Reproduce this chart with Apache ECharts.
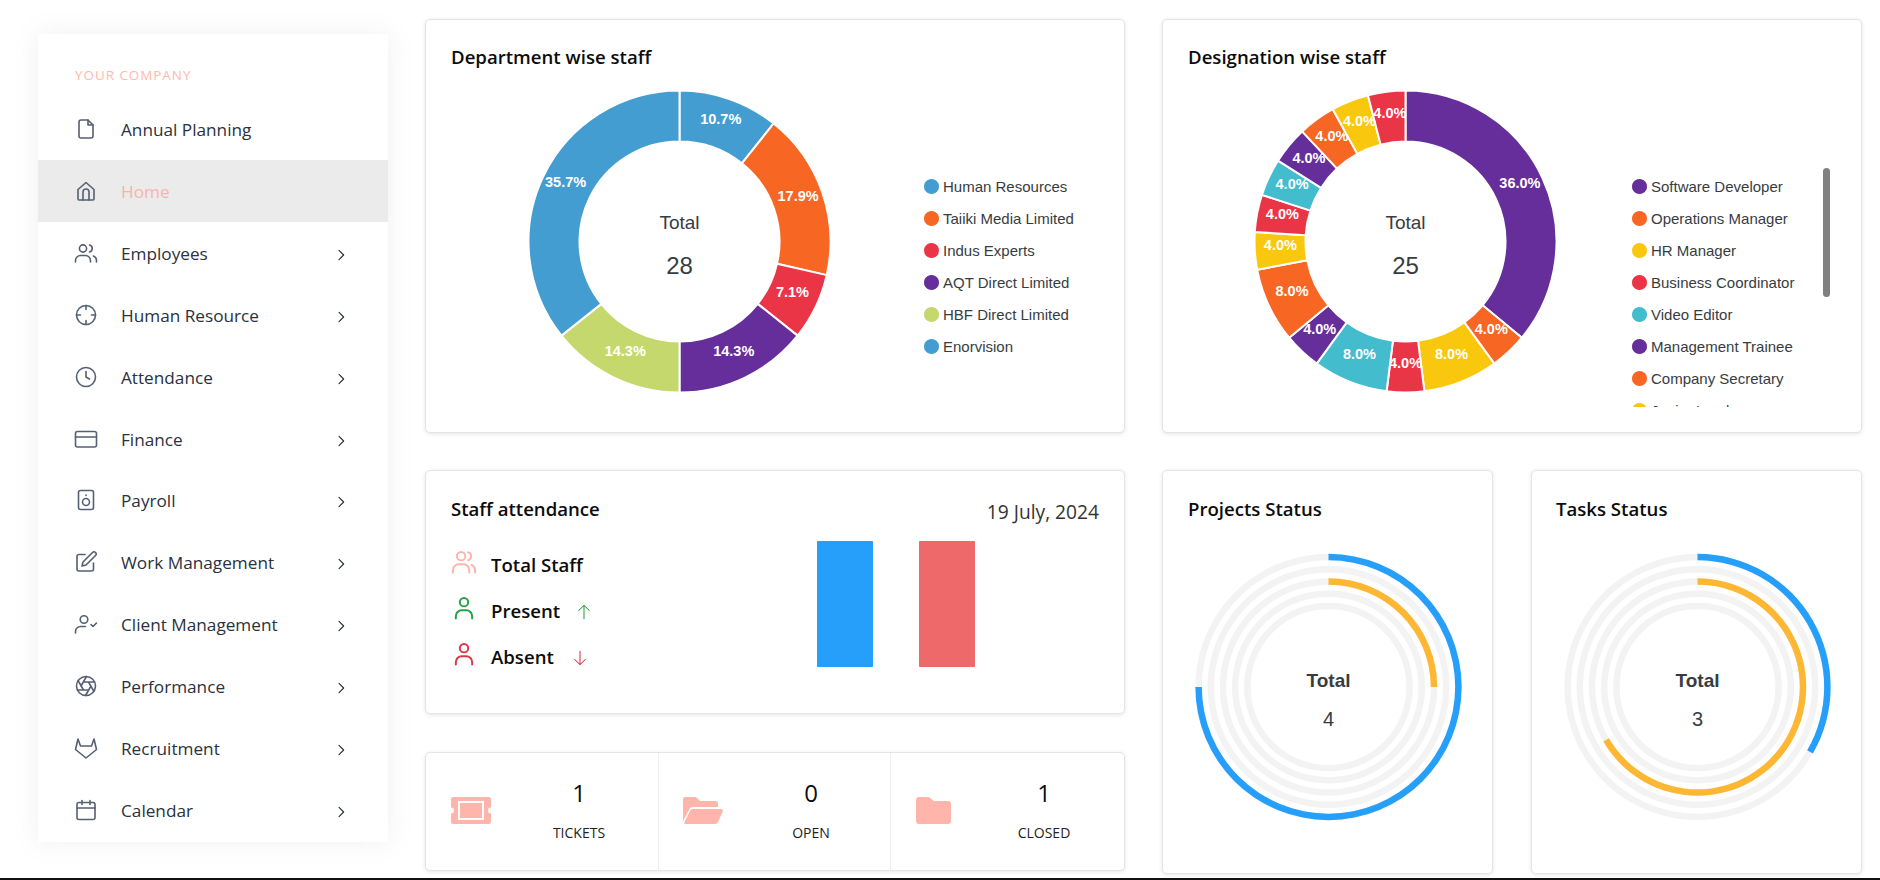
<!DOCTYPE html>
<html>
<head>
<meta charset="utf-8">
<title>Dashboard</title>
<script src="https://cdn.jsdelivr.net/npm/echarts@6/dist/echarts.min.js"></script>
<style>
html,body{margin:0;padding:0;background:#fff;width:1880px;height:880px;overflow:hidden;font-family:"Open Sans",sans-serif;}
.abs{position:absolute;}
#side{left:38px;top:34px;width:350px;height:808px;background:#fff;box-shadow:0 0 24px rgba(120,130,130,.12);}
#company{left:37px;top:32px;font-size:13.4px;letter-spacing:1px;color:#ffb9ae;line-height:18px;}
.row{position:absolute;left:0;width:350px;height:62px;}
.row.on{background:#ebebeb;}
.row svg.ic{position:absolute;left:36px;top:19px;width:24px;height:24px;fill:none;stroke:#566074;stroke-width:1.6;stroke-linecap:round;stroke-linejoin:round;}
.row span{position:absolute;left:83px;top:1px;line-height:62px;font-size:17.2px;color:#2a3140;white-space:nowrap;}
.row.on span{color:#f7b4a9;}
.row svg.ch{position:absolute;left:295px;top:25px;width:16px;height:16px;fill:none;stroke:#222b38;stroke-width:1.6;stroke-linecap:round;stroke-linejoin:round;}
.card{position:absolute;background:#fff;border:1px solid #e4e4e4;border-radius:5px;box-shadow:0 1px 4px rgba(0,0,0,.1);box-sizing:border-box;}
.ttl{position:absolute;font-size:18.6px;font-weight:600;color:#0c0c0c;line-height:24px;white-space:nowrap;z-index:2;}
.chart{position:absolute;left:0;top:0;width:100%;height:100%;}
.clip{position:absolute;overflow:hidden;left:0;top:0;width:100%;}
.st{position:absolute;left:65px;font-size:18.6px;font-weight:600;color:#0c0c0c;line-height:24px;white-space:nowrap;}
.st-ic{position:absolute;left:24px;width:28px;height:28px;fill:none;stroke-width:1.7;stroke-linecap:round;stroke-linejoin:round;}
.ar{position:absolute;width:18px;height:18px;fill:none;stroke-width:1.4;stroke-linecap:round;stroke-linejoin:round;}
.num{position:absolute;width:120px;text-align:center;font-size:24px;font-weight:500;color:#0c0c0c;line-height:30px;}
.lab{position:absolute;width:120px;text-align:center;font-size:14px;color:#222;line-height:20px;}
.div{position:absolute;top:0;bottom:0;width:1px;background:#efefef;}
.tk{position:absolute;fill:#ffb5ab;}
#base{left:0;top:878px;width:1880px;height:2px;background:#111;}
</style>
</head>
<body>

<div id="side" class="abs">
    <div id="company" class="abs">YOUR COMPANY</div>
</div>

<div class="card" style="left:425px;top:19px;width:700px;height:414px;">
    <div class="ttl" style="left:25px;top:25px;">Department wise staff</div>
    <div id="deptChart" class="chart"></div>
</div>

<div class="card" style="left:1162px;top:19px;width:700px;height:414px;">
    <div class="ttl" style="left:25px;top:25px;">Designation wise staff</div>
    <div class="clip" style="height:387px;"><div id="desigChart" style="width:700px;height:414px;"></div></div>
    <div class="abs" style="left:660px;top:148px;width:7px;height:129px;border-radius:4px;background:#808080;"></div>
</div>

<div class="card" style="left:425px;top:470px;width:700px;height:244px;">
    <div class="ttl" style="left:25px;top:26px;">Staff attendance</div>
    <div class="abs" style="right:25px;top:28px;font-size:19.2px;color:#333;line-height:26px;">19 July, 2024</div>
    <svg class="st-ic" style="top:77px;stroke:#ffb5ab;" viewBox="0 0 24 24"><circle cx="9.500" cy="7" r="3.600"/><path d="M2.500 21v-2a5 5 0 0 1 5-5h4a5 5 0 0 1 5 5v2"/><path d="M15.500 3.600a3.600 3.600 0 0 1 0 6.900"/><path d="M21.500 21v-2a5 5 0 0 0-3-4.500"/></svg>
    <div class="st" style="top:82px;">Total Staff</div>
    <svg class="st-ic" style="top:123px;stroke:#25a244;" viewBox="0 0 24 24"><circle cx="12" cy="7" r="3.600"/><path d="M5 21v-2a5 5 0 0 1 5-5h4a5 5 0 0 1 5 5v2"/></svg>
    <div class="st" style="top:128px;">Present</div>
    <svg class="ar" style="left:149px;top:132px;stroke:#25a244;" viewBox="0 0 24 24"><path d="M12 21V3M5 10l7-7 7 7"/></svg>
    <svg class="st-ic" style="top:169px;stroke:#dc3545;" viewBox="0 0 24 24"><circle cx="12" cy="7" r="3.600"/><path d="M5 21v-2a5 5 0 0 1 5-5h4a5 5 0 0 1 5 5v2"/></svg>
    <div class="st" style="top:174px;">Absent</div>
    <svg class="ar" style="left:145px;top:178px;stroke:#dc3545;" viewBox="0 0 24 24"><path d="M12 3v18M5 14l7 7 7-7"/></svg>
    <div id="attChart" class="chart"></div>
</div>

<div class="card" style="left:425px;top:752px;width:700px;height:119px;">
    <div class="div" style="left:232px;"></div>
    <div class="div" style="left:464px;"></div>
    <svg class="tk" style="left:25px;top:44px;width:40px;height:27px;" viewBox="0 0 40 27"><path fill-rule="evenodd" d="M2 0h36a2 2 0 0 1 2 2v8.500a3 3 0 0 0 0 6V25a2 2 0 0 1-2 2H2a2 2 0 0 1-2-2v-8.500a3 3 0 0 0 0-6V2a2 2 0 0 1 2-2zM7 4v19h26V4zM9 6h22v15H9z"/></svg>
    <svg class="tk" style="left:257px;top:44px;width:40px;height:27px;" viewBox="0 0 40 27"><path d="M2 0h11l4 4h15a3 3 0 0 1 3 3v3H10a4 4 0 0 0-4 3L0 24V2a2 2 0 0 1 2-2z"/><path d="M10 12h28a2 2 0 0 1 2 2l-5 11a3 3 0 0 1-3 2H2a2 2 0 0 1-1-1l6-12a4 4 0 0 1 3-2z"/></svg>
    <svg class="tk" style="left:490px;top:44px;width:35px;height:27px;" viewBox="0 0 35 27"><path d="M3 0h10l5 4h14a3 3 0 0 1 3 3v17a3 3 0 0 1-3 3H3a3 3 0 0 1-3-3V3a3 3 0 0 1 3-3z"/></svg>
    <div id="ticketBox"></div>
</div>

<div class="card" style="left:1162px;top:470px;width:331px;height:404px;">
    <div class="ttl" style="left:25px;top:26px;">Projects Status</div>
    <div id="projChart" class="chart"></div>
</div>

<div class="card" style="left:1531px;top:470px;width:331px;height:404px;">
    <div class="ttl" style="left:24px;top:26px;">Tasks Status</div>
    <div id="taskChart" class="chart"></div>
</div>

<div id="base" class="abs"></div>

<script>
/********** data **********/
var menuNames = ["Annual Planning","Home","Employees","Human Resource","Attendance","Finance","Payroll","Work Management","Client Management","Performance","Recruitment","Calendar"];

var deptNames = ["Human Resources","Taiiki Media Limited","Indus Experts","AQT Direct Limited","HBF Direct Limited","Enorvision"];
var deptValues = [3,5,2,4,4,10];
var deptColors = ["#449DD1","#F86624","#EA3546","#662E9B","#C5D86D","#449DD1"];

// only the first eight names can be read, the legend is cut off after that
var desigNames = ["Software Developer","Operations Manager","HR Manager","Business Coordinator","Video Editor","Management Trainee","Company Secretary","Junior Lead","Designation 9","Designation 10","Designation 11","Designation 12","Designation 13","Designation 14"];
var desigValues = [9,1,2,1,2,1,2,1,1,1,1,1,1,1];
var desigColors = ["#662E9B","#F86624","#F9C80E","#EA3546","#43BCCD"];

var attNames = ["Present","Absent"];
var attValues = [1,1];
var attColors = ["#269FFB","#EE6A6A"];

var ticketNames = ["TICKETS","OPEN","CLOSED"];
var ticketValues = [1,0,1];

var statusNames = ["S1","S2","S3","S4","S5"];
var projectValues = [3,0,1,0,0];
var taskValues = [1,0,2,0,0];
var statusColors = ["#269FFB","#26E7A6","#FEB733","#FF6178","#8B75D7"];

/********** sidebar **********/
var icons = {
    "Annual Planning":'<path d="M14 3H7a2 2 0 0 0-2 2v14a2 2 0 0 0 2 2h10a2 2 0 0 0 2-2V8z"/><path d="M14 3v5h5"/>',
    "Home":'<path d="M4 10.500 12 3.500l8 7V20a1 1 0 0 1-1 1H5a1 1 0 0 1-1-1z"/><path d="M9 21v-8a3 3 0 0 1 6 0v8"/>',
    "Employees":'<circle cx="9" cy="7.500" r="3.600"/><path d="M1.500 21v-1.500a5 5 0 0 1 5-5h5a5 5 0 0 1 5 5V21"/><path d="M15.500 4a3.600 3.600 0 0 1 0 7"/><path d="M22.500 21v-1.500a5 5 0 0 0-3-4.500"/>',
    "Human Resource":'<circle cx="12" cy="12" r="9.500"/><path d="M12 2.500v4M12 17.500v4M2.500 12h4M17.500 12h4"/>',
    "Attendance":'<circle cx="12" cy="12" r="9.500"/><path d="M12 6.500V12l3.500 2"/>',
    "Finance":'<rect x="1.500" y="4.500" width="21" height="15.500" rx="2"/><path d="M1.500 10h21"/>',
    "Payroll":'<rect x="4.500" y="2.500" width="15" height="19" rx="2"/><circle cx="12" cy="14" r="3.500"/><path d="M12 7v.5"/>',
    "Work Management":'<path d="M11 4.500H5a2 2 0 0 0-2 2V19a2 2 0 0 0 2 2h12.500a2 2 0 0 0 2-2v-6"/><path d="M18.500 2.500a2.100 2.100 0 0 1 3 3L12 15l-4 1 1-4z"/>',
    "Client Management":'<circle cx="10" cy="7.500" r="3.800"/><path d="M1.500 21v-1.500a5 5 0 0 1 5-5h5"/><path d="M17 12.500l2 2 3.500-3.500"/>',
    "Performance":'<circle cx="12" cy="12" r="9.500"/><path d="M14.500 8 20 17.500M9.500 8h11M7 12l5.500-9.500M9.500 16 4 6.500M14.500 16h-11M17 12l-5.500 9.500"/>',
    "Recruitment":'<path d="M4 3l2.500 7h11L20 3l2.500 10.500L12 22 1.500 13.500z"/>',
    "Calendar":'<rect x="3" y="4.500" width="18" height="17" rx="2"/><path d="M8 2.500v4M16 2.500v4M3 10h18"/>'
};

var side = document.getElementById("side");
var menuHtml = "";
for(var i = 0; i < menuNames.length; i++){
    var rowTop = 64 + i * 61.9;
    var on = menuNames[i] == "Home" ? " on" : "";
    menuHtml += '<div class="row' + on + '" style="top:' + rowTop + 'px">';
    menuHtml += '<svg class="ic" viewBox="0 0 24 24">' + icons[menuNames[i]] + '</svg>';
    menuHtml += '<span>' + menuNames[i] + '</span>';
    if(i > 1){
        menuHtml += '<svg class="ch" viewBox="0 0 24 24"><path d="M9 5l7 7-7 7"/></svg>';
    }
    menuHtml += '</div>';
}
side.insertAdjacentHTML("beforeend", menuHtml);

/********** tickets strip **********/
var tickHtml = "";
var tickX = [93,325,558];
for(var j = 0; j < ticketNames.length; j++){
    tickHtml += '<div class="num" style="left:' + tickX[j] + 'px;top:25px;">' + ticketValues[j] + '</div>';
    tickHtml += '<div class="lab" style="left:' + tickX[j] + 'px;top:70px;">' + ticketNames[j] + '</div>';
}
document.getElementById("ticketBox").innerHTML = tickHtml;

/********** donut charts **********/
function sum(arr){
    var t = 0;
    for(var k = 0; k < arr.length; k++){ t += arr[k]; }
    return t;
}

function centerText(text, x, y, size, weight){
    return {
        type:"text",
        x:x,
        y:y,
        z:10,
        style:{text:text, align:"center", verticalAlign:"middle", fontFamily:"Liberation Sans", fontSize:size, fontWeight:weight, fill:"#373d3f"}
    };
}

function donut(id, names, values, colors, legendNames, cx, cy, legendLeft){
    var total = sum(values);
    var pieData = [];
    for(var k = 0; k < values.length; k++){
        pieData.push({name:names[k], value:values[k], itemStyle:{color:colors[k % colors.length]}});
    }
    var chart = echarts.init(document.getElementById(id), null, {renderer:"svg"});
    chart.setOption({
        animation:false,
        graphic:[
            centerText("Total", cx, 202, 19, "normal"),
            centerText(String(total), cx, 245, 24, "normal")
        ],
        legend:{
            orient:"vertical",
            left:legendLeft,
            top:151,
            height:300,
            data:legendNames,
            icon:"circle",
            itemWidth:17,
            itemHeight:17,
            itemGap:11,
            textStyle:{fontFamily:"Liberation Sans", fontSize:15, lineHeight:15, color:"#373d3f", padding:[6,0,0,-2]}
        },
        series:[{
            type:"pie",
            center:[cx,cy],
            radius:[100,151],
            startAngle:90,
            avoidLabelOverlap:false,
            itemStyle:{borderColor:"#fff", borderWidth:2},
            label:{
                show:true,
                position:"inside",
                color:"#fff",
                fontFamily:"Liberation Sans",
                fontSize:14.5,
                fontWeight:"bold",
                formatter:function(p){ return (p.value / total * 100).toFixed(1) + "%"; }
            },
            // labels sit a bit nearer the middle and higher than the default spot
            labelLayout:function(p){
                var lx = p.rect.x + p.rect.width / 2;
                var ly = p.rect.y + p.rect.height / 2;
                return {dx:(cx - lx) * 0.025, dy:(cy - ly) * 0.025 - 4};
            },
            labelLine:{show:false},
            data:pieData
        }]
    });
}

donut("deptChart", deptNames, deptValues, deptColors, deptNames, 253.5, 221.5, 491);
donut("desigChart", desigNames, desigValues, desigColors, desigNames.slice(0,8), 242.5, 221.5, 462);

/********** attendance bars **********/
var attData = [];
for(var a = 0; a < attValues.length; a++){
    attData.push({value:attValues[a], itemStyle:{color:attColors[a], borderColor:attColors[a], borderWidth:1}});
}
var attChart = echarts.init(document.getElementById("attChart"), null, {renderer:"svg"});
attChart.setOption({
    animation:false,
    grid:{left:368, width:204, top:70, height:126},
    xAxis:{type:"category", data:attNames, show:false},
    yAxis:{type:"value", min:0, max:1, show:false},
    series:[{type:"bar", barWidth:56, data:attData}]
});

/********** radial charts **********/
function radial(id, values){
    var total = sum(values);
    var barData = [];
    for(var k = 0; k < values.length; k++){
        barData.push({value:values[k] / total * 100, itemStyle:{color:statusColors[k]}});
    }
    var chart = echarts.init(document.getElementById(id), null, {renderer:"svg"});
    chart.setOption({
        animation:false,
        graphic:[
            centerText("Total", 165.5, 209, 19, "bold"),
            centerText(String(total), 165.5, 248, 20, "normal")
        ],
        polar:{center:[165.5,216], radius:[75,136]},
        angleAxis:{type:"value", min:0, max:100, startAngle:90, clockwise:true, show:false},
        radiusAxis:{type:"category", data:statusNames, inverse:true, show:false},
        series:[{
            type:"bar",
            coordinateSystem:"polar",
            barWidth:6.5,
            showBackground:true,
            backgroundStyle:{color:"#f3f3f3"},
            data:barData
        }]
    });
}

radial("projChart", projectValues);
radial("taskChart", taskValues);
</script>
</body>
</html>
